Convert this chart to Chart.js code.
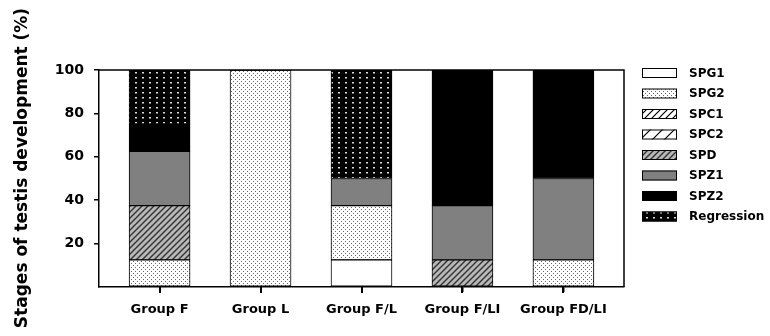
<!DOCTYPE html>
<html>
<head>
<meta charset="utf-8">
<script src="https://cdn.jsdelivr.net/npm/chart.js@4/dist/chart.umd.min.js"></script>
<style>
  html, body { margin: 0; padding: 0; background: #fff; }
  canvas { display: block; }
</style>
</head>
<body>
<canvas id="chart" width="770" height="336"></canvas>
<script>
// Stage percentages per group
const groups = ["Group F", "Group L", "Group F/L", "Group F/LI", "Group FD/LI"];
const spg1 = [0, 0, 12.5, 0, 0];
const spg2 = [12.5, 100, 25, 0, 12.5];
const spc1 = [0, 0, 0, 0, 0];
const spc2 = [0, 0, 0, 0, 0];
const spd = [25, 0, 0, 12.5, 0];
const spz1 = [25, 0, 12.5, 25, 37.5];
const spz2 = [12.5, 0, 0, 62.5, 50];
const regression = [25, 0, 50, 0, 0];
const yTicks = [0, 20, 40, 60, 80, 100];

const FONT = "'DejaVu Sans', sans-serif";

// Fill patterns built on small offscreen tiles
function tile(w, h, draw) {
  const c = document.createElement("canvas");
  c.width = w;
  c.height = h;
  const g = c.getContext("2d");
  draw(g, w, h);
  return document.getElementById("chart").getContext("2d").createPattern(c, "repeat");
}

function hatch(bg, fg, s, lw) {
  return tile(s, s, (g) => {
    g.fillStyle = bg;
    g.fillRect(0, 0, s, s);
    g.strokeStyle = fg;
    g.lineWidth = lw;
    g.beginPath();
    g.moveTo(0, s); g.lineTo(s, 0);
    g.moveTo(-1, 1); g.lineTo(1, -1);
    g.moveTo(s - 1, s + 1); g.lineTo(s + 1, s - 1);
    g.stroke();
  });
}

const dotsLight = tile(4, 4, (g) => {
  g.fillStyle = "#fff";
  g.fillRect(0, 0, 4, 4);
  g.fillStyle = "#666";
  g.fillRect(1, 1, 1, 1);
  g.fillRect(3, 3, 1, 1);
});

const dotsDark = tile(7, 5, (g) => {
  g.fillStyle = "#000";
  g.fillRect(0, 0, 7, 5);
  g.fillStyle = "#ddd";
  g.fillRect(2, 2, 2, 1.5);
});

const series = [
  { label: "SPG1", data: spg1, fill: "#fff" },
  { label: "SPG2", data: spg2, fill: dotsLight },
  { label: "SPC1", data: spc1, fill: hatch("#fff", "#000", 7, 1.2) },
  { label: "SPC2", data: spc2, fill: hatch("#fff", "#000", 12, 1.2) },
  { label: "SPD", data: spd, fill: hatch("#b8b8b8", "#333", 6, 1.4) },
  { label: "SPZ1", data: spz1, fill: "#808080" },
  { label: "SPZ2", data: spz2, fill: "#000" },
  { label: "Regression", data: regression, fill: dotsDark },
];

// top/right frame, x tick marks, y title and the legend
const extras = {
  id: "extras",
  afterDraw(chart) {
    const { ctx, chartArea: a } = chart;
    const xs = chart.scales.x;
    ctx.save();
    ctx.strokeStyle = "#000";
    ctx.lineWidth = 1.5;
    ctx.beginPath();
    ctx.moveTo(a.left, a.top);
    ctx.lineTo(a.right, a.top);
    ctx.lineTo(a.right, a.bottom);
    ctx.stroke();

    // tick marks under each bar
    ctx.fillStyle = "#000";
    for (let i = 0; i < groups.length; i++) {
      const px = Math.round(xs.getPixelForValue(i));
      ctx.fillRect(px - 1, a.bottom, 2, 6);
    }

    ctx.font = "bold 17px " + FONT;
    ctx.translate(27, 168);
    ctx.rotate(-Math.PI / 2);
    ctx.textAlign = "center";
    ctx.textBaseline = "alphabetic";
    ctx.fillText("Stages of testis development (%)", 0, 0);
    ctx.restore();

    ctx.save();
    ctx.font = "bold 12px " + FONT;
    ctx.textBaseline = "middle";
    chart.data.datasets.forEach((ds, i) => {
      const cy = 73 + i * 20.5;
      ctx.fillStyle = ds.backgroundColor;
      ctx.fillRect(642, cy - 5, 35, 10);
      ctx.strokeStyle = "#000";
      ctx.lineWidth = 1;
      ctx.strokeRect(642.5, cy - 4.5, 34, 9);
      ctx.fillStyle = "#000";
      ctx.fillText(ds.label, 689, cy + 0.5);
    });
    ctx.restore();
  },
};

new Chart(document.getElementById("chart"), {
  type: "bar",
  data: {
    datasets: series.map((s) => ({
      label: s.label,
      data: s.data.map((v, i) => ({ x: i, y: v > 0 ? v : null })),
      backgroundColor: s.fill,
      borderColor: "#000",
      borderWidth: 1,
      borderSkipped: false,
      barThickness: 61,
    })),
  },
  options: {
    responsive: false,
    animation: false,
    layout: { padding: { top: 70, right: 146, left: 0, bottom: 0 } },
    plugins: { legend: { display: false }, tooltip: { enabled: false } },
    scales: {
      x: {
        type: "linear",
        stacked: true,
        offset: false,
        min: -0.6,
        max: 4.6,
        afterBuildTicks: (scale) => {
          scale.ticks = groups.map((g, i) => ({ value: i }));
        },
        afterFit: (scale) => { scale.height = 49; },
        ticks: {
          callback: (v) => groups[v],
          color: "#000",
          font: { family: FONT, size: 13, weight: "bold" },
          padding: 10,
          maxRotation: 0,
        },
        grid: { offset: false, drawOnChartArea: false, color: "#000", lineWidth: 1.5, tickLength: 5 },
        border: { color: "#000", width: 1.5 },
      },
      y: {
        stacked: true,
        min: 0,
        max: 100,
        afterBuildTicks: (scale) => {
          scale.ticks = yTicks.map((v) => ({ value: v }));
        },
        afterFit: (scale) => { scale.width = 99; },
        ticks: {
          callback: (v) => (v === 0 ? "" : v),
          color: "#000",
          font: { family: FONT, size: 14, weight: "bold" },
          padding: 10,
        },
        grid: {
          drawOnChartArea: false,
          color: (c) => (c.tick && c.tick.value === 0 ? "rgba(0,0,0,0)" : "#000"),
          lineWidth: 1.5,
          tickLength: 5,
        },
        border: { color: "#000", width: 1.5 },
      },
    },
  },
  plugins: [extras],
});
</script>
</body>
</html>
